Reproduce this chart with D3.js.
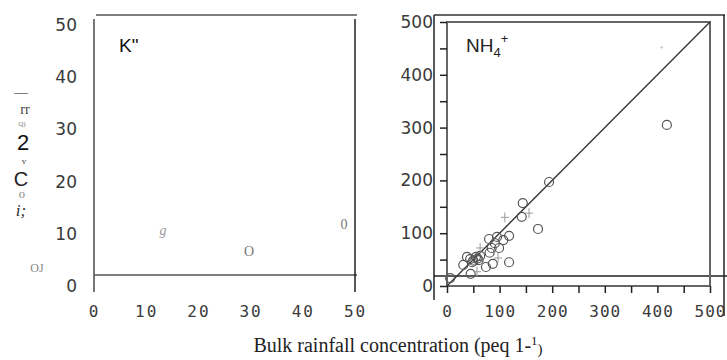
<!DOCTYPE html>
<html>
<head>
<meta charset="utf-8">
<script src="https://cdn.jsdelivr.net/npm/d3@7"></script>
<style>
  body { margin: 0; background: #fff; }
  svg { display: block; }
  .domain { display: none; }
</style>
</head>
<body>
<div id="chart"></div>
<script>
// ---- data ----
const kTicks = [0, 10, 20, 30, 40, 50];
const nhTicks = [0, 100, 200, 300, 400, 500];
const nhMinorTicks = [0, 50, 100, 150, 200, 250, 300, 350, 400, 450, 500];

// left panel (K) marks came out of the scan as stray glyphs
const kX = [13.2, 29.7, 47.9];
const kY = [10.7, 6.7, 11.9];
const kGlyph = ["g", "O", "0"];

// right panel (NH4+) circles
const nhCircX = [418, 194, 144, 142, 173, 118, 107, 99, 95, 80, 85, 87, 74, 118, 45, 38, 31, 44, 55, 50, 60, 63, 6, 81, 91, 48, 58];
const nhCircY = [305, 197, 157, 131, 108, 95, 87, 72, 93, 89, 72, 42, 36, 45, 23, 55, 40, 51, 55, 48, 49, 57, 15, 63, 81, 45, 52];
// crosses
const nhPlusX = [110, 156, 63, 97, 57, 408];
const nhPlusY = [130, 138, 72, 53, 27, 452];

const width = 727, height = 360;

const svg = d3.select("#chart").append("svg")
    .attr("width", width)
    .attr("height", height);

// scales
const xL = d3.scaleLinear().domain([0, 50]).range([94, 355]);
const yL = d3.scaleLinear().domain([0, 50]).range([286, 25]);
const xR = d3.scaleLinear().domain([0, 500]).range([447, 710]);
const yR = d3.scaleLinear().domain([0, 500]).range([286, 22]);

const gray = "#555";

// ---------- left panel ----------
const left = svg.append("g");

// frame lines (scan leaves them a bit off the ticks)
left.append("line").attr("x1", 94).attr("x2", 94).attr("y1", 19).attr("y2", 292)
    .attr("stroke", gray).attr("stroke-width", 1.6);
left.append("line").attr("x1", 96).attr("x2", 357).attr("y1", 15).attr("y2", 15)
    .attr("stroke", gray).attr("stroke-width", 1.6);
left.append("line").attr("x1", 94).attr("x2", 357).attr("y1", yL(2.1)).attr("y2", yL(2.1))
    .attr("stroke", gray).attr("stroke-width", 1.6);
left.append("line").attr("x1", 355).attr("x2", 355).attr("y1", 19).attr("y2", 292)
    .attr("stroke", "#111").attr("stroke-width", 1.4);

// y tick labels
left.append("g")
    .attr("transform", "translate(77,0)")
    .call(d3.axisLeft(yL).tickValues(kTicks).tickSize(0).tickPadding(0))
    .call(g => g.selectAll("text")
        .attr("font-family", "DejaVu Sans")
        .attr("font-size", 17)
        .attr("fill", "#3a3a3a")
        .attr("text-anchor", "end"));

// x tick labels
left.append("g")
    .attr("transform", "translate(0,312)")
    .call(d3.axisBottom(xL).tickValues(kTicks).tickSize(0).tickPadding(0))
    .call(g => g.selectAll("text")
        .attr("dy", "0.32em")
        .attr("font-family", "DejaVu Sans Mono")
        .attr("font-size", 16)
        .attr("letter-spacing", 2)
        .attr("fill", "#3a3a3a"));

// panel label
left.append("text")
    .attr("x", 119).attr("y", 52)
    .attr("font-family", "Liberation Sans")
    .attr("font-size", 19)
    .attr("fill", "#111")
    .text("K\"");

// glyph marks
left.selectAll(".kmark")
    .data(kGlyph)
    .enter()
    .append("text")
    .attr("class", "kmark")
    .attr("x", (d, i) => xL(kX[i]))
    .attr("y", (d, i) => yL(kY[i]))
    .attr("dy", "0.35em")
    .attr("text-anchor", "middle")
    .attr("font-family", "Liberation Serif")
    .attr("font-style", (d, i) => i === 0 ? "italic" : "normal")
    .attr("font-size", 14)
    .attr("fill", (d, i) => i === 0 ? "#999" : "#777")
    .text(d => d);

// garbled y-axis title from the scan
const yTitle = [
    { t: "\u2014", x: 21, y: 97, s: 14, f: "Liberation Serif", st: "normal", c: "#111" },
    { t: "rr", x: 25, y: 114, s: 14, f: "Liberation Serif", st: "normal", c: "#444" },
    { t: "Q)", x: 22, y: 126, s: 7, f: "Liberation Serif", st: "normal", c: "#777" },
    { t: "2", x: 23, y: 150, s: 22, f: "Liberation Sans", st: "normal", c: "#111" },
    { t: "v", x: 24, y: 164, s: 9, f: "Liberation Serif", st: "normal", c: "#444" },
    { t: "C", x: 21, y: 186, s: 20, f: "Liberation Sans", st: "normal", c: "#222" },
    { t: "O", x: 22, y: 198, s: 8, f: "Liberation Serif", st: "normal", c: "#555" },
    { t: "i;", x: 21, y: 216, s: 17, f: "Liberation Serif", st: "italic", c: "#333" },
    { t: "OJ", x: 37, y: 272, s: 12, f: "Liberation Serif", st: "normal", c: "#888" }
];
left.selectAll(".ytitle")
    .data(yTitle)
    .enter()
    .append("text")
    .attr("class", "ytitle")
    .attr("x", d => d.x).attr("y", d => d.y)
    .attr("text-anchor", "middle")
    .attr("font-family", d => d.f)
    .attr("font-style", d => d.st)
    .attr("font-size", d => d.s)
    .attr("fill", d => d.c)
    .text(d => d.t);

// ---------- right panel ----------
const right = svg.append("g");

// outer scan frame
right.append("line").attr("x1", 434).attr("x2", 434).attr("y1", 15).attr("y2", 300)
    .attr("stroke", "#222").attr("stroke-width", 1.5);
right.append("line").attr("x1", 434).attr("x2", 725).attr("y1", 15).attr("y2", 15)
    .attr("stroke", "#333").attr("stroke-width", 1.4);
right.append("line").attr("x1", 724).attr("x2", 724).attr("y1", 15).attr("y2", 316)
    .attr("stroke", "#222").attr("stroke-width", 1.5);
right.append("line").attr("x1", 434).attr("x2", 727).attr("y1", 276).attr("y2", 276)
    .attr("stroke", "#222").attr("stroke-width", 1.3);

// inner plot box
right.append("rect")
    .attr("x", xR(0)).attr("y", yR(500))
    .attr("width", xR(500) - xR(0)).attr("height", yR(0) - yR(500))
    .attr("fill", "none").attr("stroke", "#666").attr("stroke-width", 2);

// ticks
right.append("g")
    .attr("transform", `translate(${xR(0)},0)`)
    .call(d3.axisLeft(yR).tickValues(nhMinorTicks).tickSize(7).tickFormat(""))
    .call(g => g.selectAll("line").attr("stroke", "#222").attr("stroke-width", 1.5));
right.append("g")
    .attr("transform", `translate(0,${yR(0)})`)
    .call(d3.axisBottom(xR).tickValues(nhMinorTicks).tickSize(7).tickFormat(""))
    .call(g => g.selectAll("line").attr("stroke", "#222").attr("stroke-width", 1.5));

// tick labels
right.append("g")
    .attr("transform", "translate(433,0)")
    .call(d3.axisLeft(yR).tickValues(nhTicks).tickSize(0).tickPadding(0))
    .call(g => g.selectAll("text")
        .attr("font-family", "DejaVu Sans")
        .attr("font-size", 17)
        .attr("fill", "#3a3a3a")
        .attr("text-anchor", "end"));
right.append("g")
    .attr("transform", "translate(0,312)")
    .call(d3.axisBottom(xR).tickValues(nhTicks).tickSize(0).tickPadding(0))
    .call(g => g.selectAll("text")
        .attr("dy", "0.32em")
        .attr("font-family", "DejaVu Sans Mono")
        .attr("font-size", 16)
        .attr("letter-spacing", 1)
        .attr("fill", "#3a3a3a"));

// 1:1 line
right.append("line")
    .attr("x1", xR(0)).attr("y1", yR(0))
    .attr("x2", xR(500)).attr("y2", yR(500))
    .attr("stroke", "#333").attr("stroke-width", 1.3);

// circles
right.selectAll(".circ")
    .data(nhCircX)
    .enter()
    .append("circle")
    .attr("class", "circ")
    .attr("cx", d => xR(d))
    .attr("cy", (d, i) => yR(nhCircY[i]))
    .attr("r", 4.5)
    .attr("fill", "none")
    .attr("stroke", "#555")
    .attr("stroke-width", 1.2);

// crosses (last one is just a faint speck in the scan)
right.selectAll(".plus")
    .data(nhPlusX)
    .enter()
    .append("path")
    .attr("class", "plus")
    .attr("transform", (d, i) => `translate(${xR(d)},${yR(nhPlusY[i])})`)
    .attr("d", (d, i) => i === 5 ? "M-1.5,0H1.5M0,-1.5V1.5" : "M-4,0H4M0,-5V5")
    .attr("stroke", (d, i) => i === 5 ? "#ccc" : "#999")
    .attr("stroke-width", 1)
    .attr("fill", "none");

// panel label
const nhLabel = right.append("text")
    .attr("x", 466).attr("y", 52)
    .attr("font-family", "Liberation Sans")
    .attr("font-size", 19)
    .attr("fill", "#222");
nhLabel.append("tspan").text("NH");
nhLabel.append("tspan").attr("font-size", 13).attr("dy", 5).text("4");
nhLabel.append("tspan").attr("font-size", 13).attr("dy", -14).text("+");

// ---------- shared x title ----------
const xTitle = svg.append("text")
    .attr("x", 398).attr("y", 352)
    .attr("text-anchor", "middle")
    .attr("font-family", "Liberation Serif")
    .attr("font-size", 20)
    .attr("fill", "#222");
xTitle.append("tspan").text("Bulk rainfall concentration (peq 1-");
xTitle.append("tspan").attr("font-size", 13).attr("dy", -7).text("1");
xTitle.append("tspan").attr("font-size", 15).attr("dy", 9).text(")");
</script>
</body>
</html>
